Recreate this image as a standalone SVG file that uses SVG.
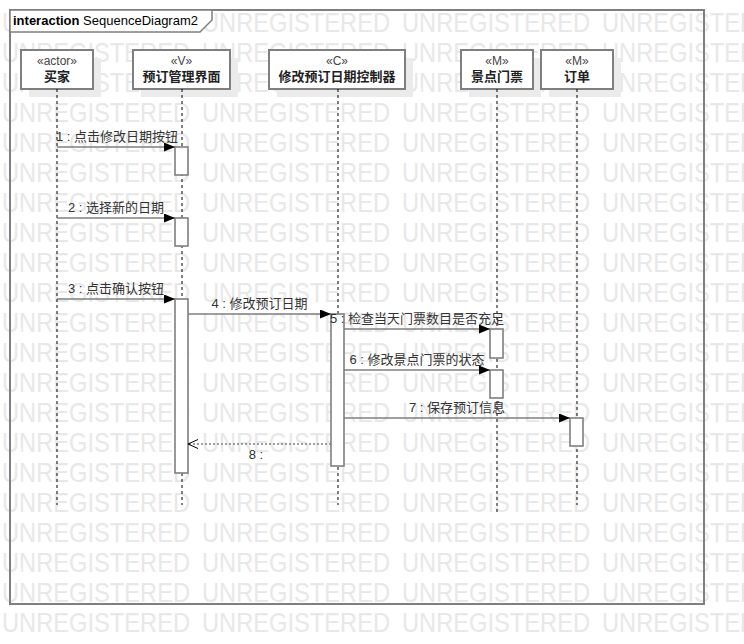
<svg xmlns="http://www.w3.org/2000/svg" width="744" height="644" viewBox="0 0 744 644">
<style>
text { font-family: "Liberation Sans", "Noto Sans CJK SC", sans-serif; }
.wm { font-size: 28px; fill: #e8e8e8; }
.frame { fill: none; stroke: #7f7f7f; stroke-width: 2; }
.tab { fill: #fff; stroke: #7f7f7f; stroke-width: 1.5; }
.title { font-size: 13px; fill: #000; }
.shadow { fill: #ebebeb; }
.box { fill: #fff; stroke: #7f7f7f; stroke-width: 2; }
.st { font-size: 12px; fill: #444; text-anchor: middle; }
.nm { font-size: 13px; font-weight: bold; fill: #222; text-anchor: middle; }
.life { stroke: #000; stroke-width: 1; stroke-dasharray: 3 3; fill: none; }
.act { fill: #fff; stroke: #7f7f7f; stroke-width: 1.6; }
.msg { stroke: #7f7f7f; stroke-width: 1.5; fill: none; marker-end: url(#fill); }
.ret { stroke: #7f7f7f; stroke-width: 1.5; stroke-dasharray: 2 2; fill: none; marker-end: url(#open); }
.lbl { font-size: 13px; fill: #333; text-anchor: middle; }
</style>
<defs>
<marker id="fill" markerUnits="userSpaceOnUse" markerWidth="12" markerHeight="10" refX="11" refY="4.5" orient="auto">
<path d="M0,0 L11,4.5 L0,9 Z" fill="#000"/>
</marker>
<marker id="open" markerUnits="userSpaceOnUse" markerWidth="12" markerHeight="10" refX="10" refY="4.5" orient="auto">
<path d="M0,0 L10,4.5 L0,9" fill="none" stroke="#000" stroke-width="1"/>
</marker>
<g id="wmrow">
<text class="wm" x="2" y="0" textLength="188" lengthAdjust="spacingAndGlyphs">UNREGISTERED</text>
<text class="wm" x="202" y="0" textLength="188" lengthAdjust="spacingAndGlyphs">UNREGISTERED</text>
<text class="wm" x="402" y="0" textLength="188" lengthAdjust="spacingAndGlyphs">UNREGISTERED</text>
<text class="wm" x="602" y="0" textLength="188" lengthAdjust="spacingAndGlyphs">UNREGISTERED</text>
</g>
</defs>
<rect x="0" y="0" width="744" height="644" fill="#fff"/>
<g id="watermark">
<use href="#wmrow" y="32"/><use href="#wmrow" y="62"/><use href="#wmrow" y="92"/>
<use href="#wmrow" y="122"/><use href="#wmrow" y="152"/><use href="#wmrow" y="182"/>
<use href="#wmrow" y="212"/><use href="#wmrow" y="242"/><use href="#wmrow" y="272"/>
<use href="#wmrow" y="302"/><use href="#wmrow" y="332"/><use href="#wmrow" y="362"/>
<use href="#wmrow" y="392"/><use href="#wmrow" y="422"/><use href="#wmrow" y="452"/>
<use href="#wmrow" y="482"/><use href="#wmrow" y="512"/><use href="#wmrow" y="542"/>
<use href="#wmrow" y="572"/><use href="#wmrow" y="602"/><use href="#wmrow" y="632"/>
</g>
<g id="frame">
<rect class="frame" x="10" y="10" width="694" height="594"/>
<path class="tab" d="M10,10 H212 V20 L200,32 H10 Z"/>
<text class="title" x="13" y="25"><tspan font-weight="bold">interaction</tspan> SequenceDiagram2</text>
</g>
<g id="buyer">
<rect class="shadow" x="29" y="58" width="72" height="39"/>
<rect class="box" x="21" y="50" width="72" height="39"/>
<text class="st" x="57" y="65">«actor»</text>
<text class="nm" x="57" y="81">买家</text>
<line class="life" x1="57" y1="89" x2="57" y2="505"/>
</g>
<g id="view">
<rect class="shadow" x="141" y="58" width="97" height="39"/>
<rect class="box" x="133" y="50" width="97" height="39"/>
<text class="st" x="181.5" y="65">«V»</text>
<text class="nm" x="181.5" y="81">预订管理界面</text>
<line class="life" x1="182" y1="89" x2="182" y2="505"/>
<rect class="act" x="175" y="147" width="13" height="28"/>
<rect class="act" x="175" y="218" width="13" height="28"/>
<rect class="act" x="175" y="299" width="13" height="174"/>
</g>
<g id="controller">
<rect class="shadow" x="277" y="58" width="136" height="39"/>
<rect class="box" x="269" y="50" width="136" height="39"/>
<text class="st" x="337" y="65">«C»</text>
<text class="nm" x="337" y="81">修改预订日期控制器</text>
<line class="life" x1="338" y1="89" x2="338" y2="505"/>
<rect class="act" x="331" y="314" width="13" height="152"/>
</g>
<g id="ticket">
<rect class="shadow" x="469" y="58" width="72" height="39"/>
<rect class="box" x="461" y="50" width="72" height="39"/>
<text class="st" x="497" y="65">«M»</text>
<text class="nm" x="497" y="81">景点门票</text>
<line class="life" x1="497" y1="89" x2="497" y2="512"/>
<rect class="act" x="490" y="329" width="13" height="29"/>
<rect class="act" x="490" y="370" width="13" height="28"/>
</g>
<g id="order">
<rect class="shadow" x="549" y="58" width="72" height="39"/>
<rect class="box" x="541" y="50" width="72" height="39"/>
<text class="st" x="577" y="65">«M»</text>
<text class="nm" x="577" y="81">订单</text>
<line class="life" x1="577" y1="89" x2="577" y2="505"/>
<rect class="act" x="570" y="418" width="13" height="28"/>
</g>
<g id="connectors">
<line class="msg" x1="57" y1="147" x2="175" y2="147"/>
<text class="lbl" x="117" y="141">1 : 点击修改日期按钮</text>
<line class="msg" x1="57" y1="218" x2="175" y2="218"/>
<text class="lbl" x="116" y="212">2 : 选择新的日期</text>
<line class="msg" x1="57" y1="299" x2="175" y2="299"/>
<text class="lbl" x="116" y="293">3 : 点击确认按钮</text>
<line class="msg" x1="188" y1="314" x2="331" y2="314"/>
<text class="lbl" x="259.5" y="308">4 : 修改预订日期</text>
<line class="msg" x1="344" y1="329" x2="490" y2="329"/>
<text class="lbl" x="417" y="323">5 : 检查当天门票数目是否充足</text>
<line class="msg" x1="344" y1="370" x2="490" y2="370"/>
<text class="lbl" x="417" y="364">6 : 修改景点门票的状态</text>
<line class="msg" x1="344" y1="418" x2="570" y2="418"/>
<text class="lbl" x="457" y="412">7 : 保存预订信息</text>
<line class="ret" x1="331" y1="444" x2="188" y2="444"/>
<text class="lbl" x="256" y="459">8 :</text>
</g>
</svg>
